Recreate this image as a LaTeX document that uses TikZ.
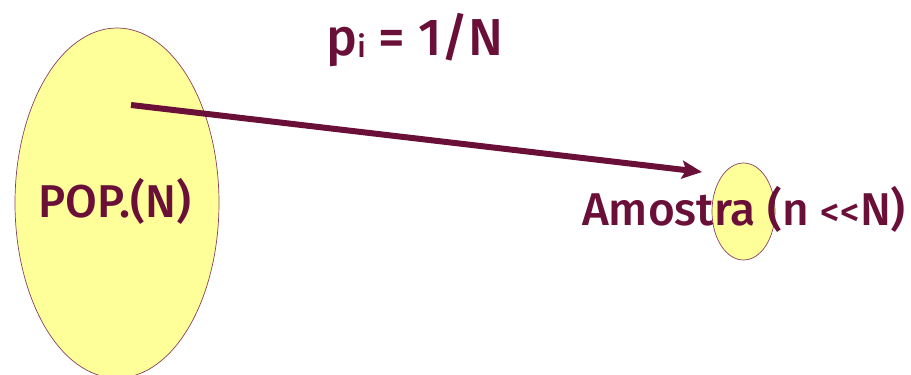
\documentclass[tikz,border=0pt]{standalone}
\usepackage{fontspec}
\setmainfont{Fira Sans}[UprightFont=* Medium]
\usetikzlibrary{shapes.geometric,arrows.meta}
\definecolor{maroon}{HTML}{6A1038}
\definecolor{pale}{HTML}{FFFF99}
\tikzset{
  blob/.style={ellipse, draw=maroon!80, line width=0.7pt, fill=pale, inner sep=0pt},
  lbl/.style={text=maroon, inner sep=0pt, anchor=base},
  conn/.style={draw=maroon, line width=6pt, -{Stealth[length=20pt,width=18pt,inset=4pt]}}
}
\begin{document}
\begin{tikzpicture}[x=1pt,y=-1pt]
\useasboundingbox (0,0) rectangle (911,375);
\node[blob, minimum width=204pt, minimum height=350pt] (pop) at (117,203) {};
\node[blob, minimum width=63pt, minimum height=97pt] (amo) at (743.5,211.5) {};
\node[lbl, font=\fontsize{46}{52}\selectfont] (poplbl) at (115,217) {POP.(N)};
\node[lbl, font=\fontsize{46}{50}\selectfont] (amolbl) at (744,225) {Amostra (n {\fontsize{38}{40}\selectfont{<}\kern1pt{<}}N)};
\node[lbl, font=\fontsize{52}{57}\selectfont] (prob) at (415,55) {p\raisebox{-2pt}{\fontsize{30}{34}\selectfont i} = 1/N};
\coordinate (s) at (131,105);
\coordinate (e) at (702,172);
\draw[conn] (s) -- (e);
\end{tikzpicture}
\end{document}
